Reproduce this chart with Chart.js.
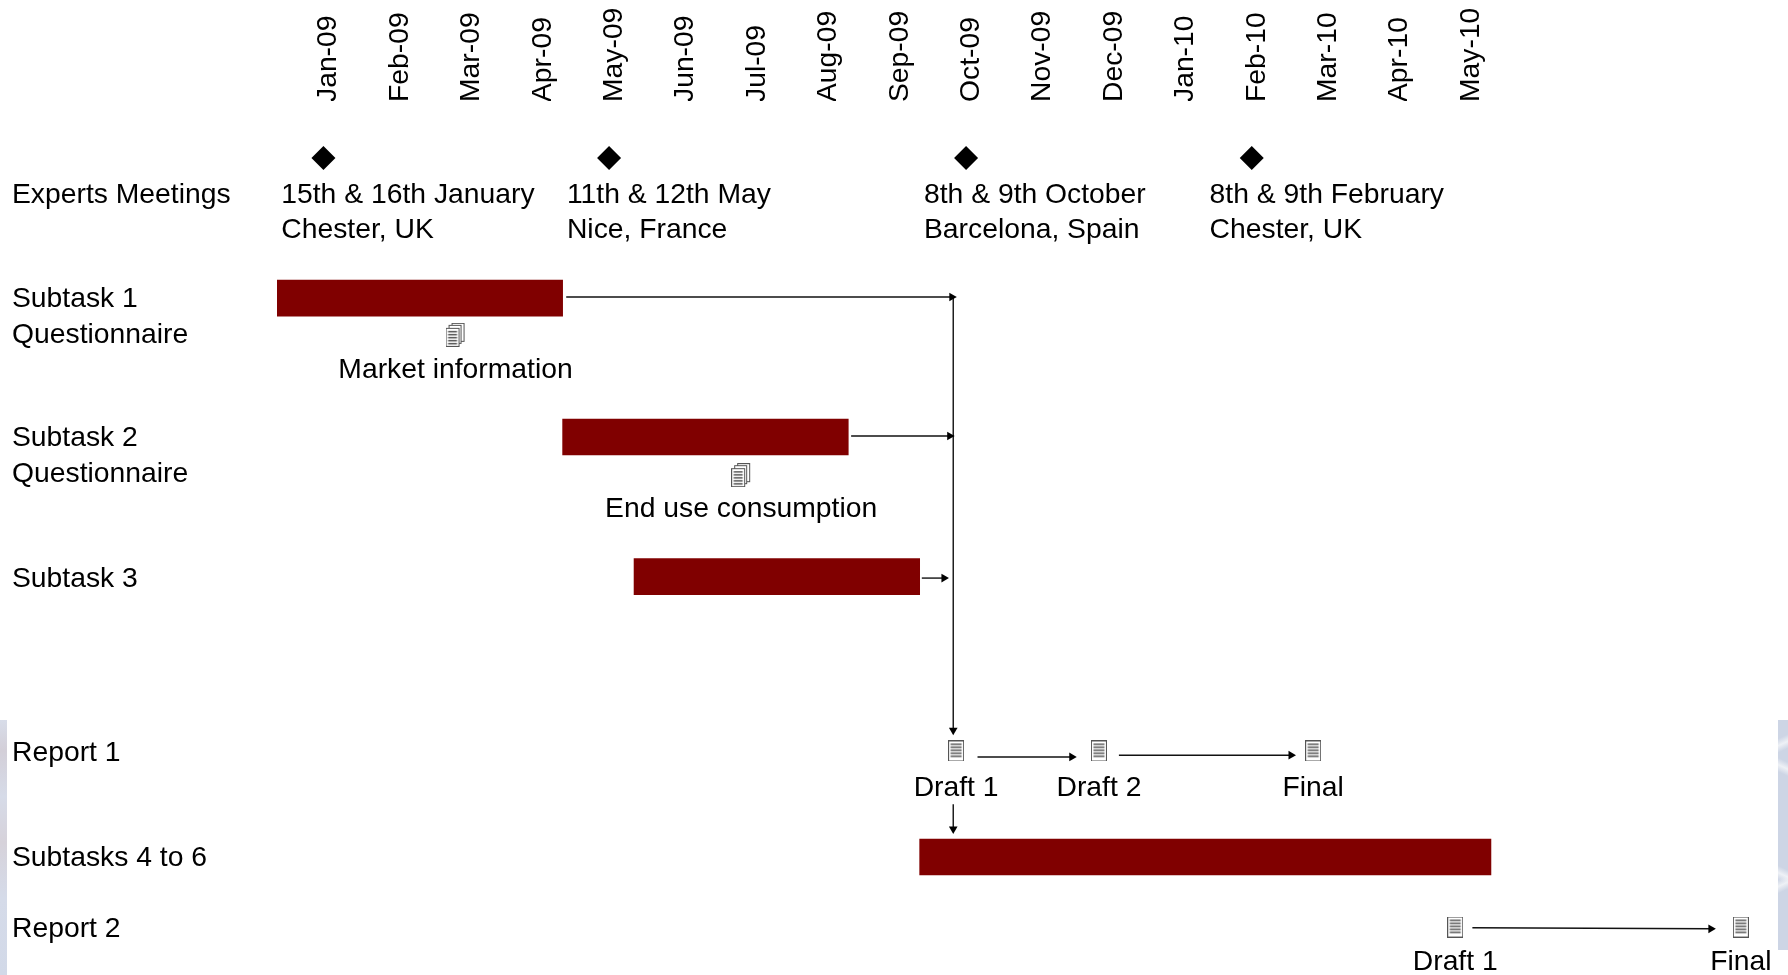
<!DOCTYPE html>
<html>
<head>
<meta charset="utf-8">
<title>Project timeline</title>
<script src="https://cdn.jsdelivr.net/npm/chart.js@4"></script>
<style>
    html, body { margin: 0; padding: 0; background: #fff; overflow: hidden; }
    #wrap { position: relative; width: 1788px; height: 975px; }
    #timeline { position: absolute; left: 0; top: 0; }
    /* remains of the slide background showing at the edges */
    .edge { position: absolute; }
    #edgeLeft {
        left: 0; top: 720px; width: 7px; height: 255px;
        background: linear-gradient(180deg, #d8dde9 0%, #d3cfd8 12%, #d6dbe8 30%, #d6d2da 48%, #d5dbe9 70%, #d2d9e8 100%);
    }
    #edgeRight {
        left: 1778px; top: 720px; width: 10px; height: 230px;
        background:
            linear-gradient(155deg, transparent 8%, #eef1f6 11%, transparent 14%),
            linear-gradient(25deg, transparent 30%, #eef1f6 33%, transparent 36%),
            linear-gradient(155deg, transparent 68%, #eef1f6 71%, transparent 74%),
            linear-gradient(25deg, transparent 76%, #eef1f6 79%, transparent 82%),
            #cdd5e5;
    }
</style>
</head>
<body>
<div id="wrap">
    <div class="edge" id="edgeLeft"></div>
    <div class="edge" id="edgeRight"></div>
    <canvas id="timeline" width="1788" height="975"></canvas>
</div>
<script>
// Months along the top, x unit = one month counted from the start of Jan-09
const months = ['Jan-09', 'Feb-09', 'Mar-09', 'Apr-09', 'May-09', 'Jun-09', 'Jul-09', 'Aug-09', 'Sep-09',
    'Oct-09', 'Nov-09', 'Dec-09', 'Jan-10', 'Feb-10', 'Mar-10', 'Apr-10', 'May-10'];
const monthLabelShift = 0.7;

// Row labels on the left, y unit = one text line
const rowLabels = ['Experts Meetings', ['Subtask 1', 'Questionnaire'], ['Subtask 2', 'Questionnaire'],
    'Subtask 3', 'Report 1', 'Subtasks 4 to 6', 'Report 2'];
const rowPositions = [2.7, 6.18, 10.15, 13.65, 18.63, 21.64, 23.65];

// Bars: start month, end month, row
const barStarts = [0, 4, 5, 9];
const barEnds = [4, 8, 9, 17];
const barRows = [5.63, 9.6, 13.59, 21.6];

// Experts meetings
const meetingX = [0.65, 4.65, 9.65, 13.65];
const meetingRow = 1.63;
const meetingDates = ['15th & 16th January', '11th & 12th May', '8th & 9th October', '8th & 9th February'];
const meetingPlaces = ['Chester, UK', 'Nice, France', 'Barcelona, Spain', 'Chester, UK'];
const meetingTextX = [0.06, 4.06, 9.06, 13.06];
const meetingTextRows = [2.7, 3.68];

// Deliverables
const stackDocX = [2.5, 6.5];
const stackDocY = [6.68, 10.69];
const stackDocNames = ['Market information', 'End use consumption'];
const stackDocTextY = [7.69, 11.65];
const singleDocX = [9.51, 11.51, 14.51, 16.5, 20.5];
const singleDocY = [18.57, 18.57, 18.57, 23.6, 23.6];
const singleDocNames = ['Draft 1', 'Draft 2', 'Final', 'Draft 1', 'Final'];
const singleDocTextY = [19.64, 19.64, 19.64, 24.6, 24.6];

// Arrows: from x, from y, to x, to y
const arrowFromX = [4.05, 8.04, 9.03, 9.47, 9.81, 11.79, 9.47, 16.74];
const arrowFromY = [5.6, 9.57, 13.63, 5.6, 18.74, 18.69, 20.09, 23.62];
const arrowToX = [9.45, 9.42, 9.34, 9.47, 11.13, 14.2, 9.47, 20.08];
const arrowToY = [5.6, 9.57, 13.63, 17.98, 18.74, 18.69, 20.8, 23.65];

const fontFamily = '"Liberation Sans", Arial, sans-serif';
const fontSize = 28.3;
const barColor = '#800000';
const inkColor = '#000000';

// Small page icon used as point style
function makeDocIcon(stacked) {
    const canvas = document.createElement('canvas');
    canvas.width = stacked ? 20 : 16;
    canvas.height = stacked ? 24 : 21;
    const c = canvas.getContext('2d');
    function page(x, y, w, h, lines) {
        c.fillStyle = '#ffffff';
        c.fillRect(x, y, w, h);
        c.strokeStyle = '#555555';
        c.lineWidth = 1;
        c.strokeRect(x + 0.5, y + 0.5, w - 1, h - 1);
        if (lines) {
            c.fillStyle = '#555555';
            for (let ly = y + 3; ly < y + h - 3; ly += 3) {
                c.fillRect(x + 2.5, ly, w - 5, 1.5);
            }
        }
    }
    if (stacked) {
        page(6, 0, 13, 19, false);
        page(3, 2, 13, 19, false);
        page(0, 5, 14, 19, true);
    } else {
        page(0, 0, 16, 21, true);
    }
    return canvas;
}

// Text placed next to the marks, positioned through the chart scales
const annotationText = {
    id: 'annotationText',
    afterDatasetsDraw(chart) {
        const { ctx, scales: { x, y } } = chart;
        ctx.save();
        ctx.font = fontSize + 'px ' + fontFamily;
        ctx.fillStyle = inkColor;
        ctx.textBaseline = 'middle';

        ctx.textAlign = 'left';
        meetingDates.forEach((label, i) => {
            ctx.fillText(label, x.getPixelForValue(meetingTextX[i]), y.getPixelForValue(meetingTextRows[0]));
            ctx.fillText(meetingPlaces[i], x.getPixelForValue(meetingTextX[i]), y.getPixelForValue(meetingTextRows[1]));
        });

        ctx.textAlign = 'center';
        stackDocNames.forEach((label, i) => {
            ctx.fillText(label, x.getPixelForValue(stackDocX[i]), y.getPixelForValue(stackDocTextY[i]));
        });
        singleDocNames.forEach((label, i) => {
            ctx.fillText(label, x.getPixelForValue(singleDocX[i]), y.getPixelForValue(singleDocTextY[i]));
        });
        ctx.restore();
    }
};

const arrowDatasets = arrowFromX.map((fromX, i) => {
    const vertical = fromX === arrowToX[i];
    return {
        type: 'line',
        data: [{ x: fromX, y: arrowFromY[i] }, { x: arrowToX[i], y: arrowToY[i] }],
        borderColor: '#111111',
        borderWidth: 1.4,
        pointStyle: 'triangle',
        pointRadius: [0, 5],
        pointHoverRadius: [0, 5],
        pointRotation: vertical ? 180 : 90,
        pointBackgroundColor: inkColor,
        pointBorderWidth: 0,
        fill: false,
        order: 1
    };
});

new Chart(document.getElementById('timeline'), {
    type: 'bar',
    data: {
        datasets: [
            {
                label: 'Tasks',
                indexAxis: 'y',
                data: barRows.map((row, i) => ({ x: [barStarts[i], barEnds[i]], y: row })),
                backgroundColor: barColor,
                barThickness: 36,
                grouped: false,
                order: 2
            },
            {
                type: 'scatter',
                label: 'Meetings',
                data: meetingX.map(m => ({ x: m, y: meetingRow })),
                pointStyle: 'rectRot',
                pointRadius: 12,
                pointBackgroundColor: inkColor,
                pointBorderWidth: 0,
                order: 1
            },
            {
                type: 'scatter',
                label: 'Stacked documents',
                data: stackDocX.map((m, i) => ({ x: m, y: stackDocY[i] })),
                pointStyle: makeDocIcon(true),
                order: 1
            },
            {
                type: 'scatter',
                label: 'Documents',
                data: singleDocX.map((m, i) => ({ x: m, y: singleDocY[i] })),
                pointStyle: makeDocIcon(false),
                order: 1
            },
            ...arrowDatasets
        ]
    },
    options: {
        responsive: false,
        animation: false,
        indexAxis: 'y',
        layout: { autoPadding: false, padding: { left: 12, top: 0, right: 0, bottom: 0 } },
        plugins: {
            legend: { display: false },
            tooltip: { enabled: false }
        },
        scales: {
            x: {
                type: 'linear',
                position: 'top',
                min: 0,
                max: 21.16,
                grid: { display: false, drawTicks: false },
                border: { display: false },
                afterFit(scale) {
                    scale.height = 101;
                    scale.paddingLeft = 0;
                    scale.paddingRight = 0;
                },
                afterBuildTicks(scale) {
                    scale.ticks = months.map((m, i) => ({ value: i + monthLabelShift }));
                },
                ticks: {
                    autoSkip: false,
                    minRotation: 90,
                    maxRotation: 90,
                    padding: -1,
                    labelOffset: 35.5,
                    color: inkColor,
                    font: { family: fontFamily, size: fontSize },
                    callback: (value, index) => months[index]
                }
            },
            y: {
                type: 'linear',
                reverse: true,
                offset: false,
                min: 0,
                max: 24.97,
                grid: { display: false, drawTicks: false },
                border: { display: false },
                afterFit(scale) {
                    scale.width = 265;
                    scale.paddingTop = 0;
                    scale.paddingBottom = 0;
                },
                afterBuildTicks(scale) {
                    scale.ticks = rowPositions.map(value => ({ value }));
                },
                ticks: {
                    autoSkip: false,
                    crossAlign: 'far',
                    padding: 0,
                    color: inkColor,
                    font: { family: fontFamily, size: fontSize, lineHeight: 1.25 },
                    callback: (value, index) => rowLabels[index]
                }
            }
        }
    },
    plugins: [annotationText]
});
</script>
</body>
</html>
